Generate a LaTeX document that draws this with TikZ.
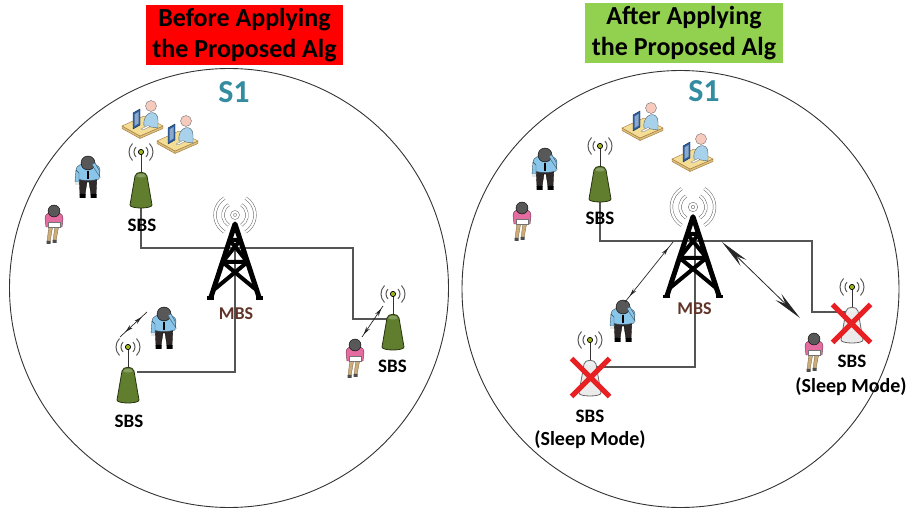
\documentclass[tikz,border=0pt]{standalone}
\usepackage{fontspec}
\setmainfont{Carlito}
\usetikzlibrary{arrows.meta,decorations.markings}

\definecolor{titlered}{RGB}{255,0,0}
\definecolor{titlegreen}{RGB}{146,208,80}
\definecolor{sone}{RGB}{52,140,160}
\definecolor{mbsbrown}{RGB}{96,52,40}
\definecolor{sbsgreen}{RGB}{96,126,46}
\definecolor{sbsdark}{RGB}{38,52,14}
\definecolor{wirecol}{RGB}{85,85,85}
\definecolor{xred}{RGB}{232,32,36}
\definecolor{shirtblue}{RGB}{138,198,234}
\definecolor{pants}{RGB}{48,42,42}
\definecolor{headgray}{RGB}{88,88,88}
\definecolor{pinktop}{RGB}{228,108,160}
\definecolor{tanleg}{RGB}{204,172,120}
\definecolor{desktan}{RGB}{244,222,150}
\definecolor{deskedge}{RGB}{160,118,58}
\definecolor{monitorblue}{RGB}{46,96,160}
\definecolor{workerblue}{RGB}{168,210,236}
\definecolor{skin}{RGB}{246,202,188}

% small base station body, origin at the antenna tip; #1 = body colour, #2 = outline
\newcommand\smallcellshape[2]{%
  \foreach \r in {7,12}{
    \draw[antwave] (45:\r) arc (45:-45:\r);
    \draw[antwave] (135:\r) arc (135:225:\r);
  }
  \draw[black!80, line width=1pt] (0,0) -- (0,21);
  \filldraw[fill=#1, draw=#2, line width=0.8pt]
    (-11,53) .. controls (-11,57) and (11,57) .. (11,53)
    -- (6,24) .. controls (5,19) and (-5,19) .. (-6,24) -- cycle;
  \fill[white, opacity=0.25] (-5,24) .. controls (-4,21) and (4,21) .. (5,24)
    .. controls (3,26) and (-3,26) .. (-5,24);
  \filldraw[fill=sbsgreen!60!yellow, draw=black, line width=0.7pt] (0,0) circle (2.6);
}

\tikzset{
  titlebox/.style={inner sep=0pt, align=center, font=\fontsize{26}{31}\selectfont\bfseries},
  cellring/.style={circle, draw=black!80, line width=0.9pt, inner sep=0pt},
  sonelabel/.style={text=sone, font=\fontsize{32}{34}\selectfont\bfseries, anchor=base, inner sep=0pt},
  sbslabel/.style={font=\fontsize{19}{21}\selectfont\bfseries, anchor=base, inner sep=0pt},
  sleeplabel/.style={font=\fontsize{20}{22}\selectfont\bfseries, anchor=base, inner sep=0pt},
  mbslabel/.style={text=mbsbrown, font=\fontsize{18}{20}\selectfont\bfseries, anchor=base, inner sep=0pt},
  wire/.style={draw=wirecol, line width=1.1pt},
  radio/.style={draw=black!60, line width=0.5pt, double=white, double distance=2.2pt},
  antwave/.style={draw=black!65, line width=1pt},
  smalllink/.style 2 args={draw=black!85, line width=0.7pt, postaction={decorate},
    decoration={markings,
      mark=at position #1 with {\arrowreversed{Stealth[length=8pt,width=4pt]}},
      mark=at position #2 with {\arrow{Stealth[length=8pt,width=4pt]}}}},
  biglink/.style={draw=black!85, line width=0.8pt, {Stealth[length=30pt,width=8.5pt]}-{Stealth[length=30pt,width=8.5pt]}},
  % macro cell tower with radio waves, origin at the wave centre
  tower/.pic={
    \draw[radio] (0,0) circle (3);
    \foreach \r in {12,20}{
      \draw[radio] (58:\r) arc (58:-58:\r);
      \draw[radio] (122:\r) arc (122:238:\r);
    }
    \draw[black, line width=5pt, line join=round, line cap=round]
      (-24,82) -- (0,9) -- (24,82);
    \draw[black, line width=4pt, line cap=round]
      (-5.4,25) -- (5.4,25)
      (-12.5,47) -- (12.5,47)
      (-5.4,25) -- (12.5,47) (5.4,25) -- (-12.5,47)
      (-12.5,47) -- (21.4,75) (12.5,47) -- (-21.4,75);
    \draw[black, line width=3.5pt] (-28,83) -- (-21,83) (21,83) -- (28,83);
  },
  sbsactive/.pic={\smallcellshape{sbsgreen}{sbsdark}},
  sbssleep/.pic={\smallcellshape{black!8}{black!60}},
  sleepcross/.pic={
    \draw[xred, line width=5pt] (-19,-19) -- (19,19) (19,-19) -- (-19,19);
  },
  % standing user seen from above
  manuser/.pic={
    \filldraw[fill=pants, draw=black, line width=0.3pt]
      (-9,0) -- (9,0) -- (8,19) -- (3,19) -- (1,6) -- (-1,6) -- (-3,19) -- (-8,19) -- cycle;
    \fill[black] (-8.5,18) rectangle (-2.5,22) (2.5,18) rectangle (8.5,22);
    \filldraw[fill=shirtblue, draw=shirtblue!40!black, line width=0.4pt]
      (-12,-6) .. controls (-12,-15) and (12,-15) .. (12,-6) -- (11,3)
      .. controls (4,5) and (-4,5) .. (-11,3) -- cycle;
    \filldraw[fill=shirtblue, draw=shirtblue!40!black, line width=0.4pt]
      (-12,-6) -- (-13,6) -- (-9,6) -- (-9,-3) -- cycle;
    \fill[black!10] (-13,6) rectangle (-9,9);
    \draw[black, line width=1.3pt] (0,-5) -- (0,3);
    \filldraw[fill=headgray, draw=black, line width=0.4pt] (0,-13) circle (7);
    \filldraw[fill=shirtblue, draw=shirtblue!40!black, line width=0.4pt]
      (11,-6) -- (12,1) -- (6,-8) -- (4,-12) -- (7,-13) -- cycle;
  },
  womanuser/.pic={
    \filldraw[fill=tanleg, draw=tanleg!55!black, line width=0.3pt]
      (-5,2) -- (-1,2) -- (-4,19) -- (-7,19) -- cycle;
    \filldraw[fill=tanleg, draw=tanleg!55!black, line width=0.3pt]
      (1,2) -- (5,2) -- (2,18) -- (-1,18) -- cycle;
    \fill[black!70] (-7.5,18) rectangle (-3.5,21) (-1.5,17) rectangle (2.5,20);
    \filldraw[fill=pinktop, draw=pinktop!45!black, line width=0.4pt]
      (-9,-5) .. controls (-9,-13) and (9,-13) .. (9,-5) -- (8,4) -- (-8,4) -- cycle;
    \filldraw[fill=white, draw=black!55, line width=0.4pt] (-6,-1) rectangle (6,4);
    \filldraw[fill=headgray, draw=black, line width=0.4pt] (0,-12) circle (6);
  },
  % office worker at a desk
  deskuser/.pic={
    \filldraw[fill=desktan!70!deskedge, draw=deskedge, line width=0.4pt]
      (-20,0) -- (-2,10) -- (-2,12.5) -- (-20,2.5) -- cycle;
    \filldraw[fill=desktan!70!deskedge, draw=deskedge, line width=0.4pt]
      (-2,10) -- (21,0) -- (21,2.5) -- (-2,12.5) -- cycle;
    \filldraw[fill=desktan, draw=deskedge, line width=0.4pt]
      (-20,0) -- (2,-10) -- (21,0) -- (-2,10) -- cycle;
    \filldraw[fill=workerblue, draw=workerblue!45!black, line width=0.4pt]
      (2,0) .. controls (0,-15) and (16,-18) .. (16,-6) -- (16,2) -- cycle;
    \filldraw[fill=skin, draw=black!55, line width=0.4pt] (9,-20) circle (5.5);
    \filldraw[fill=monitorblue, draw=monitorblue!50!black, line width=0.4pt]
      (-9,-13) -- (-2,-17) -- (-2,-1) -- (-9,3) -- cycle;
    \fill[monitorblue!55!white] (-7.5,-11.5) -- (-3.5,-14) -- (-3.5,-2.5) -- (-7.5,0) -- cycle;
    \filldraw[fill=white, draw=black!50, line width=0.3pt]
      (-1,3) -- (6,-0.5) -- (8,0.5) -- (1,4) -- cycle;
  },
}

\begin{document}
\begin{tikzpicture}[x=1pt, y=-1pt]
  \useasboundingbox (0,0) rectangle (906,513);

  % headings
  \node[titlebox, fill=titlered, minimum width=197pt, minimum height=60pt] (headL) at (244.5,35)
    {Before Applying\\the Proposed Alg};
  \node[titlebox, fill=titlegreen, minimum width=198pt, minimum height=60pt] (headR) at (684,33)
    {After Applying\\the Proposed Alg};

  % coverage areas
  \node[cellring, minimum size=439pt] (cellL) at (229,288) {};
  \node[cellring, minimum size=437pt] (cellR) at (680.5,289) {};
  \node[sonelabel] (soneL) at (234,103) {S1};
  \node[sonelabel] (soneR) at (704,102) {S1};

  % ---------- left cell: backhaul wiring ----------
  \coordinate (sbsLAfoot) at (141,208);
  \coordinate (trunkL)    at (353,248);
  \coordinate (sbsLCside) at (387,319);
  \coordinate (mbsLhub)   at (235,248);
  \coordinate (sbsLBside) at (137,372);
  \draw[wire] (sbsLAfoot) |- (trunkL) |- (sbsLCside);
  \draw[wire] (mbsLhub) |- (sbsLBside);

  % ---------- right cell: backhaul wiring ----------
  \coordinate (sbsRAfoot) at (600,200);
  \coordinate (trunkR)    at (812,241);
  \coordinate (sbsRCside) at (846,312);
  \coordinate (mbsRhub)   at (695,241);
  \coordinate (sbsRBside) at (597,367);
  \draw[wire] (sbsRAfoot) |- (trunkR) |- (sbsRCside);
  \draw[wire] (mbsRhub) |- (sbsRBside);

  % macro base stations
  \pic at (235,215) {tower};
  \node[mbslabel] (mbsL) at (236,320) {MBS};
  \pic[scale=1.08] at (693,207) {tower};
  \node[mbslabel] (mbsR) at (694.5,315) {MBS};

  % small base stations, left cell (all active)
  \pic at (141,152) {sbsactive};
  \node[sbslabel] (sbsLA) at (142,232) {SBS};
  \pic at (128,347) {sbsactive};
  \node[sbslabel] (sbsLB) at (129,427) {SBS};
  \pic at (393,294) {sbsactive};
  \node[sbslabel] (sbsLC) at (392.5,373) {SBS};

  % small base stations, right cell
  \pic at (600,146) {sbsactive};
  \node[sbslabel] (sbsRA) at (600,225) {SBS};
  \pic at (590,340) {sbssleep};
  \pic at (590.5,377.5) {sleepcross};
  \node[sbslabel] (sbsRB) at (590,422) {SBS};
  \node[sleeplabel] (sleepRB) at (590,445) {(Sleep Mode)};
  \pic at (852,287) {sbssleep};
  \pic at (851.5,323.5) {sleepcross};
  \node[sbslabel] (sbsRC) at (852,367) {SBS};
  \node[sleeplabel] (sleepRC) at (851,392) {(Sleep Mode)};

  % users
  \pic at (142,126) {deskuser};
  \pic at (177,141) {deskuser};
  \pic at (88,176) {manuser};
  \pic at (54,223) {womanuser};
  \pic at (164,327) {manuser};
  \pic at (355,357) {womanuser};

  \pic at (642,128) {deskuser};
  \pic at (692,159) {deskuser};
  \pic at (545,168) {manuser};
  \pic at (522,220) {womanuser};
  \pic at (623,320) {manuser};
  \pic at (814,351) {womanuser};

  % radio links
  \coordinate (linkLa1) at (120,337);
  \coordinate (linkLa2) at (147,312);
  \coordinate (linkLb1) at (362,337);
  \coordinate (linkLb2) at (383,306);
  \draw[smalllink={0.2}{0.8}] (linkLa1) -- (linkLa2);
  \draw[smalllink={0.08}{0.92}] (linkLb1) -- (linkLb2);

  \coordinate (linkRa1) at (673,242);
  \coordinate (linkRa2) at (625,302);
  \coordinate (linkRb1) at (722,242);
  \coordinate (linkRb2) at (800,318);
  \draw[smalllink={0.1}{0.9}] (linkRa1) -- (linkRa2);
  \draw[biglink] (linkRb1) -- (linkRb2);
\end{tikzpicture}
\end{document}
